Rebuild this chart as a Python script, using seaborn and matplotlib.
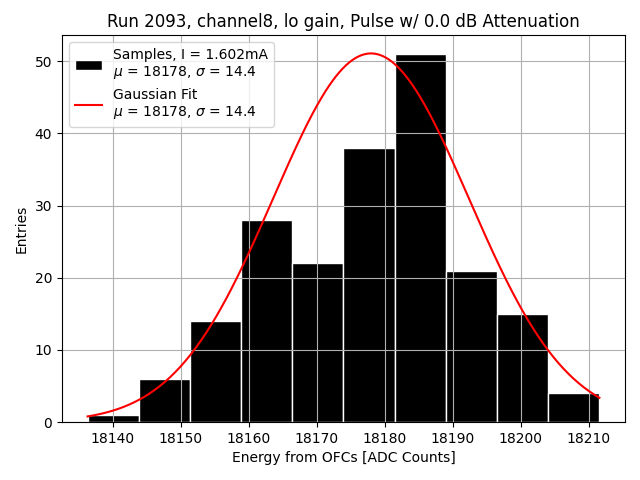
import numpy as np
import pandas as pd
import matplotlib
matplotlib.use("Agg")
import matplotlib.pyplot as plt
import seaborn as sns

bin_lo = 18136.3
bin_hi = 18211.6
n_bins = 10
counts = [1, 6, 14, 28, 22, 38, 51, 21, 15, 4]
mu = 18178.0
sigma = 14.4
amp = 51.1

edges = np.linspace(bin_lo, bin_hi, n_bins + 1)
centers = (edges[:-1] + edges[1:]) / 2
df = pd.DataFrame({"x": centers, "w": np.array(counts, dtype=float)})

fig, ax = plt.subplots(figsize=(6.4, 4.8), dpi=100)
sns.histplot(data=df, x="x", weights="w", bins=list(edges), color="black", edgecolor="white",
             alpha=1, linewidth=1, ax=ax,
             label="Samples, I = 1.602mA\n$\\mu$ = 18178, $\\sigma$ = 14.4")
xs = np.linspace(bin_lo, bin_hi, 300)
ys = amp * np.exp(-0.5 * ((xs - mu) / sigma) ** 2)
sns.lineplot(x=xs, y=ys, color="red", ax=ax,
             label="Gaussian Fit\n$\\mu$ = 18178, $\\sigma$ = 14.4")
ax.grid(True)
ax.set_xlabel("Energy from OFCs [ADC Counts]")
ax.set_ylabel("Entries")
ax.set_title("Run 2093, channel8, lo gain, Pulse w/ 0.0 dB Attenuation")
handles, labels = ax.get_legend_handles_labels()
order = sorted(range(len(labels)), key=lambda i: 0 if labels[i].startswith("Samples") else 1)
ax.legend([handles[i] for i in order], [labels[i] for i in order], loc="upper left")
fig.subplots_adjust(left=62/640, right=625/640, top=1-35/480, bottom=1-422/480)
fig.savefig("out.png")
